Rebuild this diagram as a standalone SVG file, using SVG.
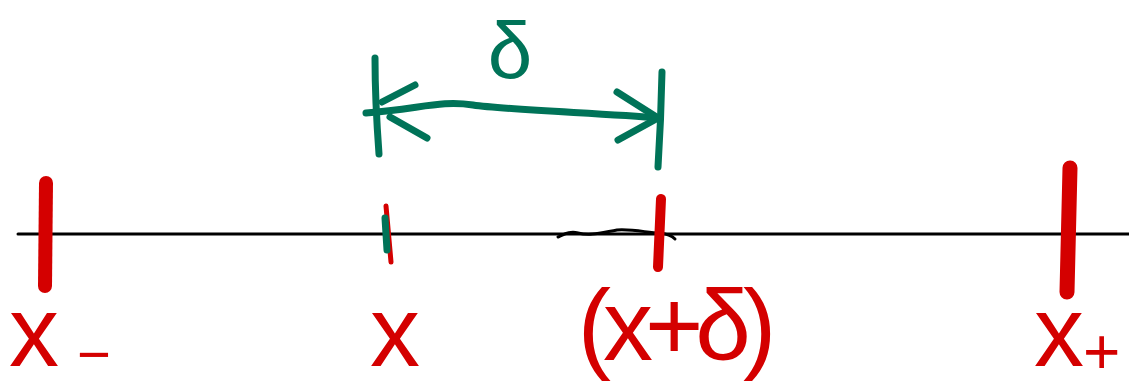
<svg xmlns="http://www.w3.org/2000/svg" width="1129" height="387" viewBox="0 0 1129 387">
<style>
.axis{fill:none;stroke:#000;stroke-width:3;stroke-linecap:round}
.red{fill:none;stroke:#d40000;stroke-linecap:round;stroke-linejoin:round}
.grn{fill:none;stroke:#007358;stroke-width:7;stroke-linecap:round;stroke-linejoin:round}
.lr{font-family:"Liberation Sans",Arial,sans-serif;fill:#d40000}
.lg{font-family:"Liberation Sans",Arial,sans-serif;fill:#007358}
</style>
<rect width="1129" height="387" fill="#fff"/>
<g id="axis">
<path class="axis" d="M18,234 L1129,234"/>
<path class="axis" d="M558,237 C565,234 570,231 578,233 C590,236 600,233 617,230 C635,229 648,233 660,233 C668,234 672,236 675,239"/>
</g>
<g id="tick-xminus">
<path class="red" stroke-width="14" d="M46,183 L45,286"/>
<text class="lr" x="9" y="366" font-size="100">x<tspan x="77" y="374" font-size="58">−</tspan></text>
</g>
<g id="tick-x">
<path class="red" stroke-width="5" d="M386,206 L391,262"/>
<path class="grn" stroke-width="6" d="M385,218 L387,250"/>
<text class="lr" x="370" y="366" font-size="100">x</text>
</g>
<g id="tick-xdelta">
<path class="red" stroke-width="10" d="M661,199 L658,267"/>
<text class="lr" x="673" y="360" font-size="100" text-anchor="middle" letter-spacing="-8">(x+δ)</text>
</g>
<g id="tick-xplus">
<path class="red" stroke-width="15" d="M1070,168 L1067,292"/>
<text class="lr" x="1034" y="366" font-size="100">x<tspan x="1083" y="374" font-size="64">+</tspan></text>
</g>
<g id="delta-dimension">
<path class="grn" d="M375,58 Q375,100 379,154"/>
<path class="grn" d="M662,72 Q661,120 658,167"/>
<path class="grn" d="M366,113 C420,109 440,100 473,105 S600,113 660,118"/>
<path class="grn" d="M415,85 L382,102 M390,117 L427,138"/>
<path class="grn" d="M617,92 L658,118 L618,140"/>
<text class="lg" x="510" y="78" font-size="80" text-anchor="middle">δ</text>
</g>
</svg>
